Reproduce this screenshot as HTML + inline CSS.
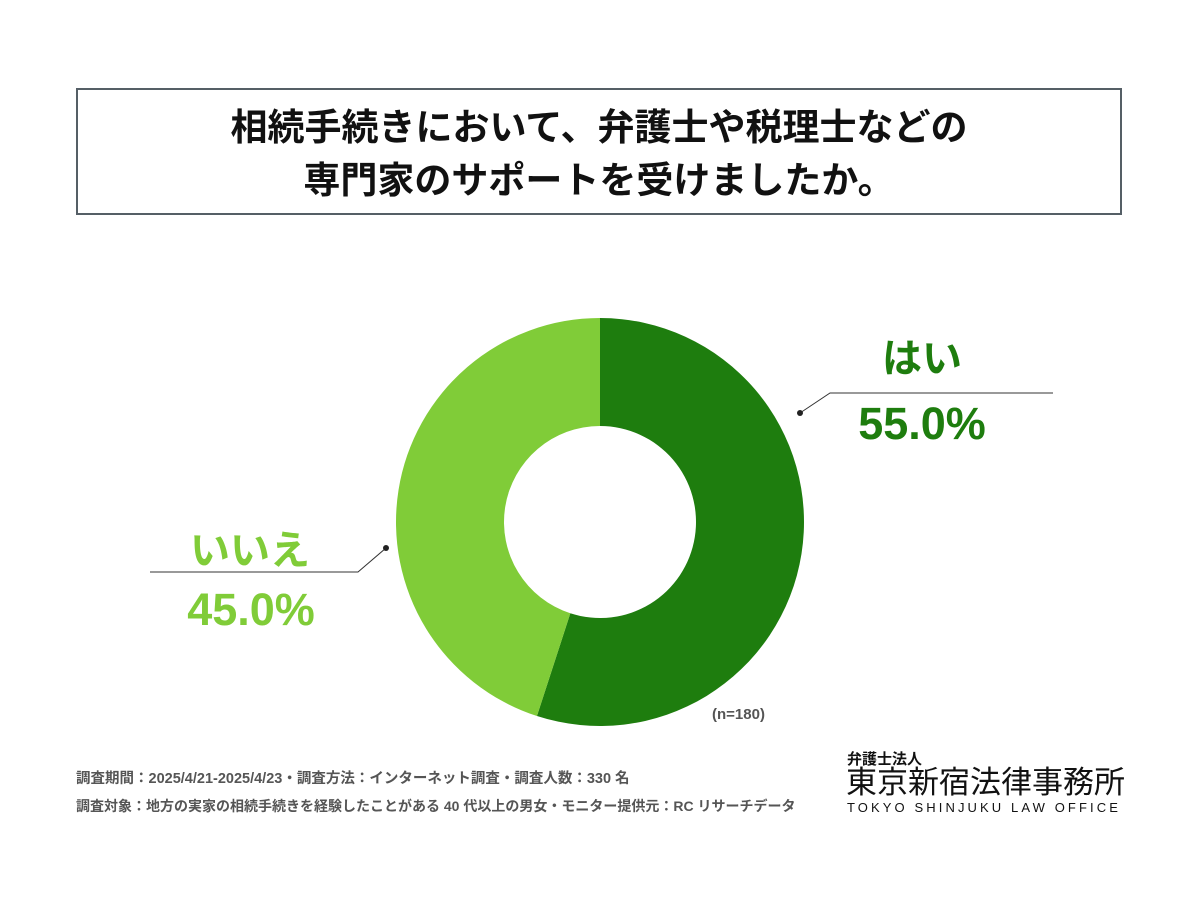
<!DOCTYPE html>
<html><head><meta charset="utf-8"><style>
body{margin:0;width:1200px;height:900px;background:#fff;position:relative;overflow:hidden;font-family:"Liberation Sans","Noto Sans CJK JP",sans-serif}
.t{position:absolute;white-space:nowrap;line-height:1.15}
</style></head><body>
<div style="position:absolute;left:76px;top:88px;width:1046px;height:127px;border:2px solid #555f66;box-sizing:border-box"></div>
<div class="t" style="left:76px;top:101px;width:1046px;text-align:center;font-size:37px;font-weight:bold;line-height:53px;color:#111">相続手続きにおいて、弁護士や税理士などの<br>専門家のサポートを受けましたか。</div>
<svg id="chart" width="1200" height="900" style="position:absolute;left:0;top:0"></svg>
<div class="t" style="left:872px;top:336px;width:100px;text-align:center;font-size:40px;font-weight:bold;color:#1e7d0e">はい</div>
<div class="t" style="left:822px;top:398px;width:200px;text-align:center;font-size:45px;font-weight:bold;color:#1e7d0e" id="vy"></div>
<div class="t" style="left:180px;top:528px;width:140px;text-align:center;font-size:40px;font-weight:bold;color:#80cc38">いいえ</div>
<div class="t" style="left:151px;top:584px;width:200px;text-align:center;font-size:45px;font-weight:bold;color:#80cc38" id="vn"></div>
<div class="t" style="left:712px;top:706px;font-size:15px;font-weight:bold;color:#555">(n=180)</div>
<div class="t" style="left:76px;top:771px;font-size:14.5px;font-weight:bold;color:#555">調査期間：2025/4/21-2025/4/23・調査方法：インターネット調査・調査人数：330 名</div>
<div class="t" style="left:76px;top:798px;font-size:14px;font-weight:bold;color:#555">調査対象：地方の実家の相続手続きを経験したことがある 40 代以上の男女・モニター提供元：RC リサーチデータ</div>
<div class="t" style="left:847px;top:751px;font-size:15px;font-weight:bold;color:#111">弁護士法人</div>
<div class="t" style="left:846px;top:766px;font-size:31px;line-height:34px;color:#111">東京新宿法律事務所</div>
<div class="t" style="left:847px;top:801px;font-size:13px;color:#111;letter-spacing:3.1px">TOKYO SHINJUKU LAW OFFICE</div>
<script>
const categories=["はい","いいえ"];
const values=[55.0,45.0];
const colors=["#1e7d0e","#80cc38"];
const svg=document.getElementById('chart');const NS="http://www.w3.org/2000/svg";
const cx=600,cy=522,R=204,r=96;
const total=values.reduce((a,b)=>a+b,0);
let a0=0;
function pt(a,rad){return [cx+rad*Math.sin(a),cy-rad*Math.cos(a)];}
values.forEach((v,i)=>{
 const a1=a0+v/total*2*Math.PI;const lg=(a1-a0)>Math.PI?1:0;
 const p1=pt(a0,R),p2=pt(a1,R),p3=pt(a1,r),p4=pt(a0,r);
 const p=document.createElementNS(NS,'path');
 p.setAttribute('d',`M${p1}L${p1}A${R} ${R} 0 ${lg} 1 ${p2}L${p3}A${r} ${r} 0 ${lg} 0 ${p4}Z`);
 p.setAttribute('fill',colors[i]);
 
 
 svg.appendChild(p);a0=a1;
});
function leader(pts,dot,name){
 const l=document.createElementNS(NS,'polyline');l.setAttribute('points',pts);l.setAttribute('fill','none');l.setAttribute('stroke','#333');l.setAttribute('stroke-width','1');
 
 
 svg.appendChild(l);
 const c=document.createElementNS(NS,'circle');c.setAttribute('cx',dot[0]);c.setAttribute('cy',dot[1]);c.setAttribute('r','3');c.setAttribute('fill','#222');
 
 
 svg.appendChild(c);
}
leader("800,413 830,393 1053,393",[800,413],'leader-yes');
leader("386,548 358,572 150,572",[386,548],'leader-no');
document.getElementById('vy').textContent=values[0].toFixed(1)+'%';
document.getElementById('vn').textContent=values[1].toFixed(1)+'%';
</script>
</body></html>
